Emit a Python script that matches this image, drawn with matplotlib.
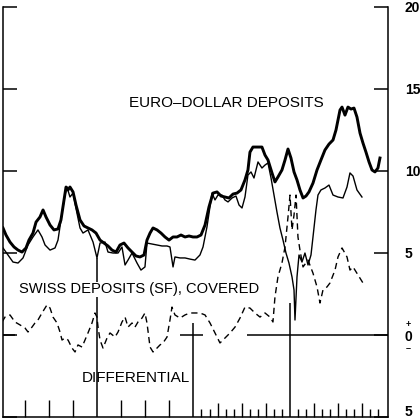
import matplotlib
matplotlib.use('Agg')
import matplotlib.pyplot as plt

plt.rcParams['font.family'] = ['Liberation Sans', 'DejaVu Sans']

# ---- data (months since start of chart, percent per annum) ----
euro_month = [0.31, 0.68, 1.18, 1.68, 2.18, 2.67, 3.17, 3.54, 4.04, 4.42,
              4.91, 5.29, 5.66, 6.16, 6.65, 7.15, 7.52, 7.90, 8.15, 8.40,
              8.64, 9.02, 9.39, 9.89, 10.39, 10.88, 11.38, 11.88, 12.38, 12.87,
              13.37, 13.87, 14.37, 14.86, 15.36, 15.86, 16.36, 16.85, 17.35, 17.85,
              18.22, 18.60, 18.97, 19.47, 19.96, 20.46, 20.96, 21.46, 21.95, 22.45,
              22.95, 23.45, 23.94, 24.44, 24.94, 25.44, 25.93, 26.43, 26.93, 27.43,
              27.92, 28.42, 28.92, 29.42, 29.91, 30.41, 30.78, 31.03, 31.40, 32.03,
              32.52, 32.90, 33.27, 33.77, 34.14, 34.51, 35.01, 35.39, 35.76, 36.13,
              36.51, 36.88, 37.25, 37.63, 38.00, 38.37, 38.87, 39.37, 39.86, 40.36,
              40.86, 41.36, 41.73, 41.98, 42.23, 42.48, 42.85, 43.22, 43.60, 43.97,
              44.34, 44.72, 45.09, 45.46, 45.84, 46.21, 46.58, 46.95, 47.20]
euro_rate = [6.51, 6.08, 5.65, 5.35, 5.16, 5.04, 5.29, 5.77, 6.20, 6.87,
             7.18, 7.61, 7.18, 6.69, 6.39, 6.45, 7.00, 8.22, 9.01, 8.83,
             9.01, 8.71, 7.91, 7.00, 6.63, 6.51, 6.39, 6.20, 5.77, 5.59,
             5.41, 5.16, 5.04, 5.47, 5.59, 5.29, 5.04, 4.80, 4.74, 4.86,
             5.77, 6.20, 6.51, 6.39, 6.20, 5.96, 5.77, 5.96, 5.96, 6.08,
             5.96, 6.02, 5.96, 5.96, 6.08, 6.69, 7.79, 8.64, 8.71, 8.46,
             8.40, 8.34, 8.58, 8.64, 8.83, 9.44, 10.05, 11.14, 11.45, 11.45,
             11.45, 10.96, 10.66, 9.87, 9.32, 9.62, 10.05, 10.66, 11.33, 10.78,
             9.93, 9.44, 8.83, 8.34, 8.46, 8.71, 9.25, 10.05, 10.66, 11.27,
             11.63, 11.88, 12.49, 13.10, 13.71, 13.89, 13.40, 13.89, 13.77, 13.83,
             13.28, 12.30, 11.69, 11.14, 10.54, 10.05, 9.93, 10.17, 10.78]

swiss_month = [0.31, 0.93, 1.55, 2.18, 2.80, 3.42, 4.04, 4.66, 5.16, 5.54,
               6.16, 6.78, 7.15, 7.65, 8.02, 8.27, 8.64, 9.02, 9.51, 9.89,
               10.26, 10.88, 11.51, 12.00, 12.38, 13.00, 13.37, 14.00, 14.62, 15.11,
               15.49, 15.86, 16.36, 16.98, 17.47, 17.97, 18.22, 18.84, 19.47, 20.09,
               20.71, 21.08, 21.46, 21.70, 22.33, 22.95, 23.57, 24.19, 24.81, 25.19,
               25.68, 26.31, 26.68, 27.05, 27.55, 27.92, 28.30, 28.80, 29.29, 29.67,
               30.04, 30.41, 30.78, 31.16, 31.53, 32.03, 32.52, 32.90, 33.27, 33.65,
               34.02, 34.39, 34.76, 35.14, 35.51, 35.88, 36.26, 36.51, 36.63, 36.88,
               37.13, 37.50, 37.87, 38.25, 38.62, 38.87, 39.24, 39.49, 39.86, 40.36,
               40.86, 41.36, 41.98, 42.60, 43.10, 43.47, 43.85, 44.34, 44.96]
swiss_rate = [5.29, 4.86, 4.43, 4.37, 4.68, 5.47, 5.96, 6.39, 5.96, 5.47,
              5.16, 5.29, 5.77, 7.42, 8.52, 9.01, 8.40, 8.64, 7.42, 6.51,
              6.20, 6.39, 5.65, 4.68, 5.59, 5.65, 5.04, 4.98, 4.98, 5.35,
              4.25, 4.55, 4.98, 4.37, 3.94, 4.13, 5.59, 5.53, 5.47, 5.41,
              5.41, 5.35, 4.13, 4.74, 4.68, 4.68, 4.61, 4.55, 4.86, 5.35,
              6.57, 8.64, 8.22, 8.52, 8.52, 8.22, 8.10, 8.34, 8.46, 7.91,
              7.73, 8.40, 9.74, 9.93, 9.56, 10.54, 10.17, 10.35, 10.48, 9.56,
              8.52, 7.48, 6.51, 5.77, 4.98, 4.37, 3.52, 2.72, 0.89, 3.52,
              4.86, 4.43, 4.98, 4.25, 4.86, 5.96, 7.61, 8.52, 8.83, 8.95,
              9.13, 8.52, 8.40, 8.34, 9.01, 9.87, 9.68, 8.83, 8.40]

diff_month = [0.19, 0.56, 1.18, 1.80, 2.43, 3.05, 3.42, 3.92, 4.29, 4.66,
              5.16, 5.78, 6.16, 6.53, 7.03, 7.40, 7.65, 8.02, 8.40, 8.89,
              9.27, 9.64, 10.14, 10.51, 10.88, 11.38, 11.75, 12.00, 12.13, 12.38,
              12.75, 13.25, 13.62, 14.24, 14.62, 15.11, 15.49, 15.86, 16.36, 16.73,
              17.10, 17.60, 17.97, 18.22, 18.60, 18.97, 19.47, 19.84, 20.21, 20.71,
              21.08, 21.33, 21.70, 22.33, 22.95, 23.57, 24.19, 24.81, 25.44, 26.06,
              26.68, 27.30, 27.92, 28.55, 29.17, 29.79, 30.41, 31.03, 31.65, 32.28,
              32.90, 33.52, 33.89, 34.14, 34.51, 35.01, 35.39, 35.76, 36.01, 36.26,
              36.51, 36.76, 37.00, 37.25, 37.63, 38.25, 38.87, 39.37, 39.74, 40.11,
              40.61, 40.98, 41.61, 41.98, 42.48, 43.10, 43.47, 43.85, 44.47, 45.09]
diff_value = [0.77, 1.07, 1.20, 0.77, 0.59, 0.40, 0.16, 0.46, 0.71, 0.89,
              1.32, 1.81, 1.62, 1.07, 0.71, 0.16, -0.33, -0.21, -0.33, -0.82,
              -1.06, -0.63, -0.76, -0.33, 0.10, 0.71, 1.32, 1.07, 0.46, -0.33,
              -0.82, -0.21, 0.10, -0.15, 0.16, 0.77, 1.07, 0.46, 0.71, 0.46,
              0.77, 1.01, 1.32, 0.71, -0.76, -1.06, -0.82, -0.63, -0.51, -0.15,
              0.89, 1.68, 1.20, 1.01, 1.20, 1.32, 1.32, 1.32, 1.20, 0.71,
              0.10, -0.51, -0.21, 0.10, 0.46, 1.01, 1.68, 1.62, 1.32, 1.07,
              1.32, 1.07, 0.77, 2.30, 3.52, 4.37, 5.35, 7.18, 8.52, 6.39,
              7.30, 8.52, 5.96, 5.16, 4.13, 4.55, 3.75, 2.91, 1.93, 2.72,
              2.91, 3.15, 3.94, 4.74, 5.29, 4.74, 3.94, 4.13, 3.64, 3.15]

y_ticks = [-5, 0, 5, 10, 15, 20]
y_tick_labels = ['', '', '5', '10', '15', '20']
bottom_label = '5'
quarter_ticks = [3, 6, 9, 15, 18, 21, 27, 30, 33, 39, 42, 45]
month_ticks = [25, 26, 28, 29, 31, 32, 34, 35, 37, 38, 40, 41, 43, 44, 46, 47]

label_euro = 'EURO\u2013DOLLAR DEPOSITS'
label_swiss = 'SWISS DEPOSITS (SF), COVERED'
label_diff = 'DIFFERENTIAL'

# ---- figure ----
fig = plt.figure(figsize=(4.2, 4.18), dpi=100)
ax = fig.add_axes([3 / 420, 1.5 / 418, 385 / 420, 409.5 / 418])
ax.set_xlim(0.31, 48.2)
ax.set_ylim(-5, 20)

ax.plot(euro_month, euro_rate, color='black', lw=2.1, solid_joinstyle='round', zorder=3)
ax.plot(swiss_month, swiss_rate, color='black', lw=1.0, zorder=3)
ax.plot(diff_month, diff_value, color='black', lw=1.0, linestyle=(0, (4.5, 3)), zorder=3)

# zero line (partially visible as in the original) and year separators
for a, b in [(0.31, 1.8), (22.3, 25.2), (30.7, 48.2)]:
    ax.hlines(0, a, b, color='black', lw=1.1, zorder=2)
for xm, top in [(12, 4.7), (24, 0.7), (36, 1.9)]:
    ax.vlines(xm, -5, top, color='black', lw=1.1, zorder=2)

ax.spines['top'].set_visible(False)
for s in ['left', 'right', 'bottom']:
    ax.spines[s].set_linewidth(1.1)

ax.set_yticks(y_ticks)
ax.set_yticklabels(y_tick_labels, fontweight='bold', fontsize=10)
ax.tick_params(axis='y', direction='in', length=10, width=1.1, left=True, right=True,
               labelleft=False, labelright=True, pad=12)

ax.set_xticks(quarter_ticks)
ax.set_xticks(month_ticks, minor=True)
ax.tick_params(axis='x', which='major', direction='in', length=12, width=1.0,
               labelbottom=False, top=False)
ax.tick_params(axis='x', which='minor', direction='in', length=6, width=1.0,
               labelbottom=False, top=False)
for t, pos in zip(ax.xaxis.get_major_ticks(), quarter_ticks):
    if pos > 24:
        t.tick1line.set_markersize(10)

# zero label (+ 0 -) and bottom label
fig.text(408 / 420, (418 - 337) / 418, '0', ha='center', va='center',
         fontsize=10, fontweight='bold')
fig.text(408 / 420, (418 - 325) / 418, '+', ha='center', va='center',
         fontsize=6.5, fontweight='bold')
fig.text(408 / 420, (418 - 349) / 418, '\u2013', ha='center', va='center',
         fontsize=6.5, fontweight='bold')
fig.text(405 / 420, (418 - 412) / 418, bottom_label, ha='left', va='center',
         fontsize=10, fontweight='bold')

ax.text(28.05, 13.91, label_euro, ha='center', va='baseline', fontsize=11, zorder=4)
ax.text(17.2, 2.52, label_swiss, ha='center', va='baseline', fontsize=10.6, zorder=4,
        bbox=dict(facecolor='white', edgecolor='none', pad=0.5))
ax.text(16.9, -2.88, label_diff, ha='center', va='baseline', fontsize=11, zorder=4)

fig.savefig('out.png', dpi=100)
